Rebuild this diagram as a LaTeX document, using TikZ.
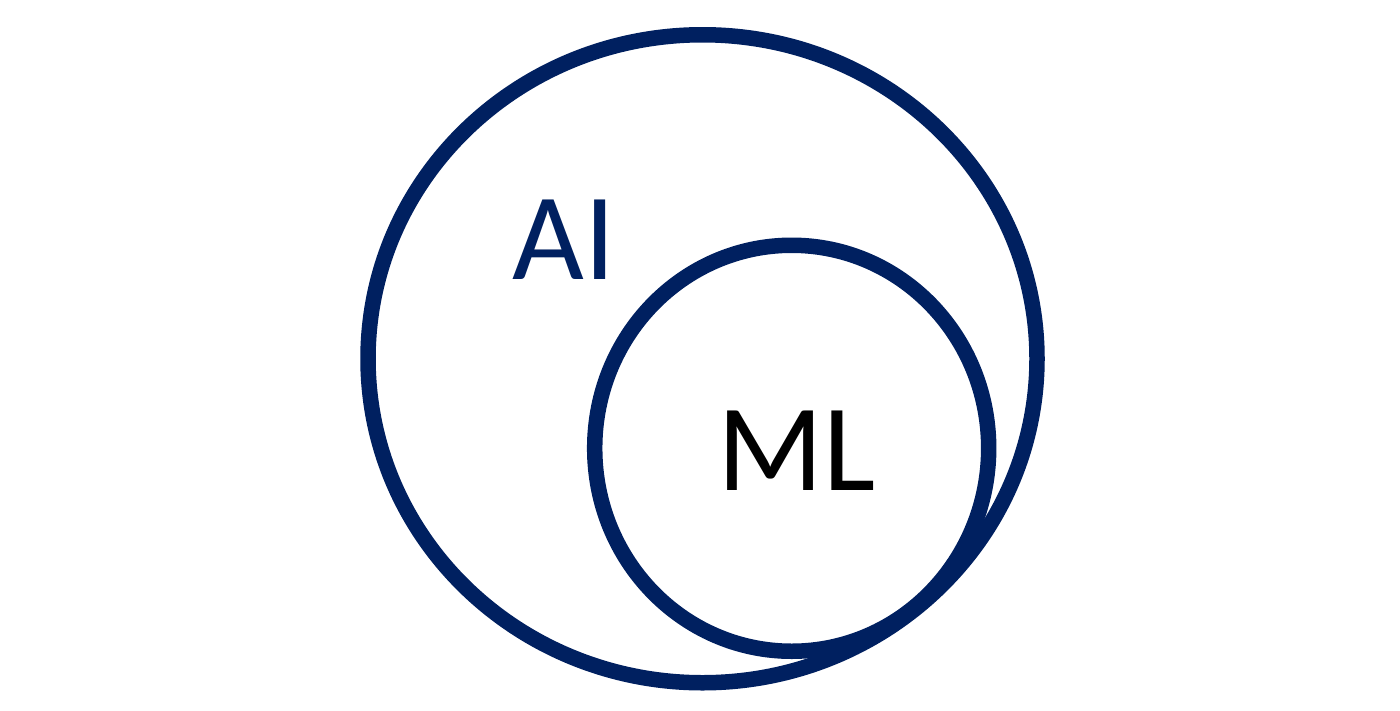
\documentclass[tikz,border=0pt]{standalone}
\usepackage{fontspec}
\setmainfont{Carlito}
\definecolor{navy}{RGB}{0,32,96}
\begin{document}
\begin{tikzpicture}[x=1pt,y=-1pt,
  ring/.style={draw=navy,line width=15.5pt},
  lbl/.style={inner sep=0pt,anchor=base west,font=\fontsize{124}{130}\selectfont}]
\useasboundingbox[fill=white] (0,0) rectangle (1400,710);
\draw[ring] (702.5,358.75) ellipse [x radius=334.5,y radius=324];
\draw[ring] (791.7,448.25) ellipse [x radius=197,y radius=203];
\node[lbl,text=navy] (ai) at (512,279) {AI};
\node[lbl,text=black] (ml) at (717,490) {ML};
\end{tikzpicture}
\end{document}
